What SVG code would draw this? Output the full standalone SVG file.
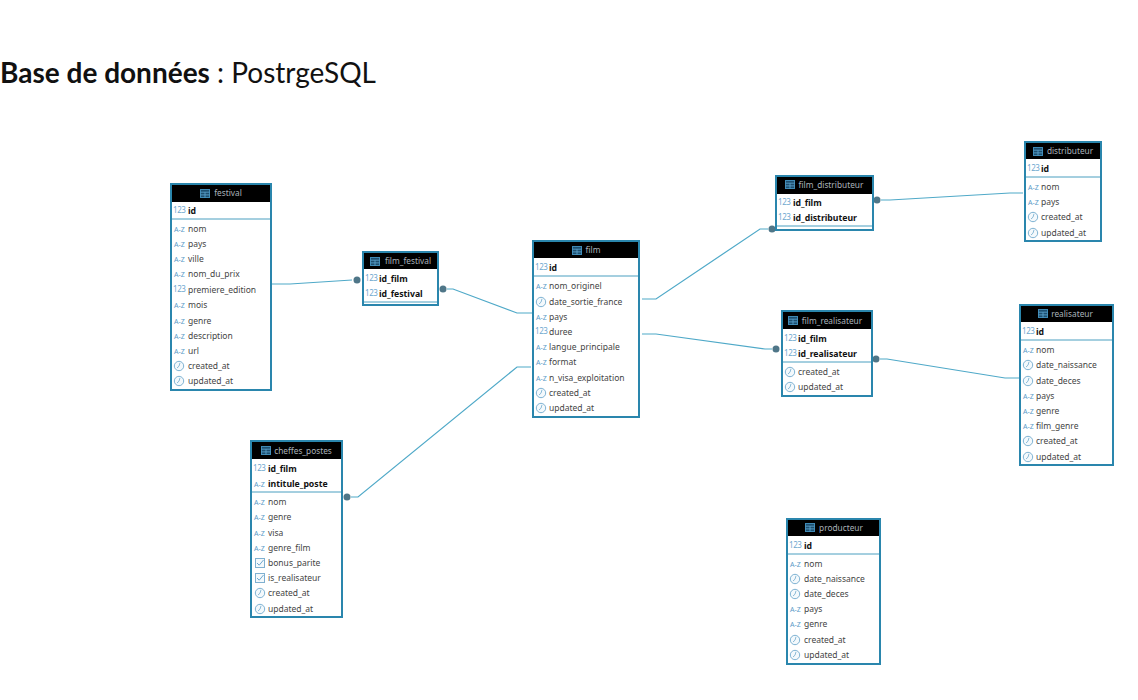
<svg xmlns="http://www.w3.org/2000/svg" width="1138" height="700" viewBox="0 0 1138 700">
<style>
text{font-family:"Noto Sans","Open Sans",sans-serif;}
.box{fill:#fff;stroke:#2a86ad;stroke-width:2;}
.head{fill:#000;}
.sep{stroke:#4a9fc0;stroke-width:1;}
.title{font-size:8.3px;fill:#aab2ba;text-anchor:middle;}
.c{font-size:8.5px;fill:#444;}
.k{font-size:8.7px;fill:#111;font-weight:700;}
.az{font-size:7px;fill:#5a9ac8;}
.n{font-size:8px;letter-spacing:-.4px;fill:#6ea8cf;}
.link{fill:none;stroke:#4fa9c8;stroke-width:1.2;}
.dot{fill:#4f7688;}
.main{font-family:"Lato","Liberation Sans",sans-serif;font-size:28px;fill:#111;}
</style>
<defs>
<g id="clk"><circle cx="5" cy="-3" r="4.7" fill="#f4f9fc" stroke="#7fb3d3" stroke-width="1"/><path d="M6-6.2 5-2.8 3-1" fill="none" stroke="#7fb3d3" stroke-width=".9"/></g>
<g id="chk"><rect x=".5" y="-7.5" width="9" height="9" fill="#f4f9fc" stroke="#7fb0d0" stroke-width="1"/><path d="M2-3 4.2-.8 8.5-6" fill="none" stroke="#6ea8cf" stroke-width="1"/></g>
<g id="tbl"><rect x=".5" y=".5" width="9" height="8" fill="#1d4f70" stroke="#3f8ab5" stroke-width="1"/><path d="M.5 3.2H9.500M.5 5.900H9.500M5 3.200V8.500" stroke="#5fa6cf" stroke-width=".8" fill="none"/></g>
</defs>

<text class="main" x="0" y="83"><tspan font-weight="700">Base de données</tspan> : PostrgeSQL</text>

<g id="connectors">
<path class="link" d="M272 284H290L352 280"/><circle class="dot" cx="357" cy="280" r="3.5"/>
<path class="link" d="M447 289H453L517 313H532"/><circle class="dot" cx="443" cy="289" r="3.5"/>
<path class="link" d="M351 497H358L517 367H531"/><circle class="dot" cx="347" cy="497" r="3.5"/>
<path class="link" d="M642 299H656L760 229H768"/><circle class="dot" cx="772" cy="229" r="3.5"/>
<path class="link" d="M642 334H656L765 349H772"/><circle class="dot" cx="776" cy="349" r="3.5"/>
<path class="link" d="M881 200H890L1010 193H1023"/><circle class="dot" cx="877" cy="200" r="3.5"/>
<path class="link" d="M880 359H887L1005 378H1019"/><circle class="dot" cx="876" cy="359" r="3.5"/>
</g>

<g id="festival">
<rect class="box" x="171" y="184" width="100" height="206"/><rect class="head" x="172" y="185" width="98" height="17"/>
<use href="#tbl" x="200" y="189"/><text class="title" x="228" y="196">festival</text>
<path class="sep" d="M172 219H270"/>
<text class="n" x="173" y="213">123</text><text class="k" x="188" y="214">id</text>
<text class="az" x="174" y="232">A-Z</text><text class="c" x="188" y="232">nom</text>
<text class="az" x="174" y="247">A-Z</text><text class="c" x="188" y="247">pays</text>
<text class="az" x="174" y="262">A-Z</text><text class="c" x="188" y="262">ville</text>
<text class="az" x="174" y="277">A-Z</text><text class="c" x="188" y="277">nom_du_prix</text>
<text class="n" x="173" y="292">123</text><text class="c" x="188" y="293">premiere_edition</text>
<text class="az" x="174" y="308">A-Z</text><text class="c" x="188" y="308">mois</text>
<text class="az" x="174" y="324">A-Z</text><text class="c" x="188" y="324">genre</text>
<text class="az" x="174" y="339">A-Z</text><text class="c" x="188" y="339">description</text>
<text class="az" x="174" y="354">A-Z</text><text class="c" x="188" y="354">url</text>
<use href="#clk" x="174" y="369"/><text class="c" x="188" y="369">created_at</text>
<use href="#clk" x="174" y="384"/><text class="c" x="188" y="384">updated_at</text>
</g>

<g id="film_festival">
<rect class="box" x="363" y="252" width="75" height="53"/><rect class="head" x="364" y="253" width="73" height="16"/>
<use href="#tbl" x="370" y="257"/><text class="title" x="408" y="264">film_festival</text>
<path class="sep" d="M364 302H437"/>
<text class="n" x="365" y="281">123</text><text class="k" x="379" y="282">id_film</text>
<text class="n" x="365" y="296">123</text><text class="k" x="379" y="297">id_festival</text>
</g>

<g id="film">
<rect class="box" x="533" y="241" width="106" height="176"/><rect class="head" x="534" y="242" width="104" height="16"/>
<use href="#tbl" x="572" y="246"/><text class="title" x="593" y="253">film</text>
<path class="sep" d="M534 276H638"/>
<text class="n" x="535" y="270">123</text><text class="k" x="549" y="271">id</text>
<text class="az" x="536" y="289">A-Z</text><text class="c" x="549" y="289">nom_originel</text>
<use href="#clk" x="536" y="305"/><text class="c" x="549" y="305">date_sortie_france</text>
<text class="az" x="536" y="320">A-Z</text><text class="c" x="549" y="320">pays</text>
<text class="n" x="535" y="334">123</text><text class="c" x="549" y="335">duree</text>
<text class="az" x="536" y="350">A-Z</text><text class="c" x="549" y="350">langue_principale</text>
<text class="az" x="536" y="365">A-Z</text><text class="c" x="549" y="365">format</text>
<text class="az" x="536" y="381">A-Z</text><text class="c" x="549" y="381">n_visa_exploitation</text>
<use href="#clk" x="536" y="396"/><text class="c" x="549" y="396">created_at</text>
<use href="#clk" x="536" y="411"/><text class="c" x="549" y="411">updated_at</text>
</g>

<g id="cheffes_postes">
<rect class="box" x="251" y="441" width="91" height="176"/><rect class="head" x="252" y="442" width="89" height="17"/>
<use href="#tbl" x="261" y="446"/><text class="title" x="303" y="454">cheffes_postes</text>
<path class="sep" d="M252 492H341"/>
<text class="n" x="253" y="471">123</text><text class="k" x="268" y="472">id_film</text>
<text class="az" x="254" y="487">A-Z</text><text class="k" x="268" y="487">intitule_poste</text>
<text class="az" x="254" y="505">A-Z</text><text class="c" x="268" y="505">nom</text>
<text class="az" x="254" y="520">A-Z</text><text class="c" x="268" y="520">genre</text>
<text class="az" x="254" y="536">A-Z</text><text class="c" x="268" y="536">visa</text>
<text class="az" x="254" y="551">A-Z</text><text class="c" x="268" y="551">genre_film</text>
<use href="#chk" x="255" y="566"/><text class="c" x="268" y="566">bonus_parite</text>
<use href="#chk" x="255" y="581"/><text class="c" x="268" y="581">is_realisateur</text>
<use href="#clk" x="255" y="596"/><text class="c" x="268" y="596">created_at</text>
<use href="#clk" x="255" y="612"/><text class="c" x="268" y="612">updated_at</text>
</g>

<g id="film_distributeur">
<rect class="box" x="776" y="176" width="97" height="54"/><rect class="head" x="777" y="177" width="95" height="17"/>
<use href="#tbl" x="785" y="180"/><text class="title" x="831" y="188">film_distributeur</text>
<path class="sep" d="M777 226H872"/>
<text class="n" x="778" y="205">123</text><text class="k" x="793" y="206">id_film</text>
<text class="n" x="778" y="220">123</text><text class="k" x="793" y="221">id_distributeur</text>
</g>

<g id="distributeur">
<rect class="box" x="1025" y="142" width="76" height="99"/><rect class="head" x="1026" y="143" width="74" height="16"/>
<use href="#tbl" x="1033" y="147"/><text class="title" x="1070" y="154">distributeur</text>
<path class="sep" d="M1026 177H1100"/>
<text class="n" x="1027" y="171">123</text><text class="k" x="1041" y="172">id</text>
<text class="az" x="1028" y="190">A-Z</text><text class="c" x="1041" y="190">nom</text>
<text class="az" x="1028" y="205">A-Z</text><text class="c" x="1041" y="205">pays</text>
<use href="#clk" x="1028" y="220"/><text class="c" x="1041" y="220">created_at</text>
<use href="#clk" x="1028" y="236"/><text class="c" x="1041" y="236">updated_at</text>
</g>

<g id="film_realisateur">
<rect class="box" x="782" y="311" width="90" height="85"/><rect class="head" x="783" y="312" width="88" height="17"/>
<use href="#tbl" x="788" y="316"/><text class="title" x="832" y="324">film_realisateur</text>
<path class="sep" d="M783 362H871"/>
<text class="n" x="784" y="341">123</text><text class="k" x="798" y="342">id_film</text>
<text class="n" x="784" y="356">123</text><text class="k" x="798" y="357">id_realisateur</text>
<use href="#clk" x="785" y="375"/><text class="c" x="798" y="375">created_at</text>
<use href="#clk" x="785" y="390"/><text class="c" x="798" y="390">updated_at</text>
</g>

<g id="realisateur">
<rect class="box" x="1020" y="305" width="93" height="160"/><rect class="head" x="1021" y="306" width="91" height="16"/>
<use href="#tbl" x="1038" y="309"/><text class="title" x="1072" y="317">realisateur</text>
<path class="sep" d="M1021 340H1112"/>
<text class="n" x="1022" y="334">123</text><text class="k" x="1036" y="335">id</text>
<text class="az" x="1023" y="353">A-Z</text><text class="c" x="1036" y="353">nom</text>
<use href="#clk" x="1023" y="368"/><text class="c" x="1036" y="368">date_naissance</text>
<use href="#clk" x="1023" y="384"/><text class="c" x="1036" y="384">date_deces</text>
<text class="az" x="1023" y="399">A-Z</text><text class="c" x="1036" y="399">pays</text>
<text class="az" x="1023" y="414">A-Z</text><text class="c" x="1036" y="414">genre</text>
<text class="az" x="1023" y="429">A-Z</text><text class="c" x="1036" y="429">film_genre</text>
<use href="#clk" x="1023" y="444"/><text class="c" x="1036" y="444">created_at</text>
<use href="#clk" x="1023" y="460"/><text class="c" x="1036" y="460">updated_at</text>
</g>

<g id="producteur">
<rect class="box" x="787" y="519" width="93" height="145"/><rect class="head" x="788" y="520" width="91" height="16"/>
<use href="#tbl" x="805" y="523"/><text class="title" x="841" y="531">producteur</text>
<path class="sep" d="M788 554H879"/>
<text class="n" x="789" y="548">123</text><text class="k" x="804" y="549">id</text>
<text class="az" x="790" y="567">A-Z</text><text class="c" x="804" y="567">nom</text>
<use href="#clk" x="790" y="582"/><text class="c" x="804" y="582">date_naissance</text>
<use href="#clk" x="790" y="597"/><text class="c" x="804" y="597">date_deces</text>
<text class="az" x="790" y="612">A-Z</text><text class="c" x="804" y="612">pays</text>
<text class="az" x="790" y="627">A-Z</text><text class="c" x="804" y="627">genre</text>
<use href="#clk" x="790" y="643"/><text class="c" x="804" y="643">created_at</text>
<use href="#clk" x="790" y="658"/><text class="c" x="804" y="658">updated_at</text>
</g>
</svg>
